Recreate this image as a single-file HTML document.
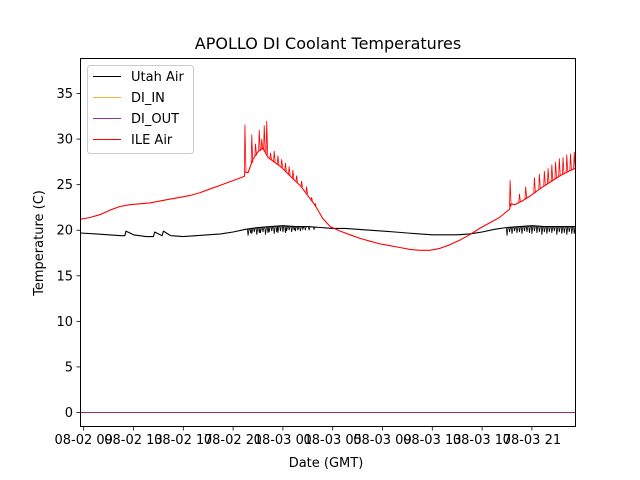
<!DOCTYPE html>
<html><head><meta charset="utf-8"><style>
body{margin:0;background:#fff;}
svg{display:block;font-family:"DejaVu Sans","Liberation Sans",sans-serif;}
</style></head><body>
<svg id="chart" width="640" height="480" viewBox="0 0 640 480">
<rect width="640" height="480" fill="#fff"/>
<text x="328" y="49" text-anchor="middle" font-size="16">APOLLO DI Coolant Temperatures</text>
<text x="326" y="467" text-anchor="middle" font-size="13">Date (GMT)</text>
<text transform="translate(43,243) rotate(-90)" text-anchor="middle" font-size="13">Temperature (C)</text>
<g id="plot"></g>
<g id="axes"></g>
<g>
<rect x="87.5" y="65.5" width="106" height="88" rx="3" fill="#fff" fill-opacity="0.85" stroke="#ccc"/>
<g><line x1="93" y1="76.5" x2="121" y2="76.5" stroke="#000" stroke-width="1"/><text x="131" y="81" font-size="13">Utah Air</text></g>
<g><line x1="93" y1="97.5" x2="121" y2="97.5" stroke="#f5b041" stroke-width="1"/><text x="131" y="102" font-size="13">DI_IN</text></g>
<g><line x1="93" y1="118.5" x2="121" y2="118.5" stroke="#a0309f" stroke-width="1"/><text x="131" y="123" font-size="13">DI_OUT</text></g>
<g><line x1="93" y1="139.5" x2="121" y2="139.5" stroke="#ff0000" stroke-width="1"/><text x="131" y="144" font-size="13">ILE Air</text></g>
</g>
</svg>
<script>
// hours since 08-02 09:00
const ileHours = [-0.3,0.5,1.3,2.1,2.9,3.7,4.5,5.3,6.1,6.9,7.7,8.5,9.3,10.1,10.9,11.9,12.9,12.95,13.2,13.6,14.0,14.4,14.8,15.2,15.8,16.4,17.0,17.4,18.0,18.6,19.2,19.8,20.6,21.4,22.2,23.0,23.8,24.6,25.4,26.2,27.0,27.8,28.6,29.4,30.2,31.0,31.8,32.6,33.4,34.2,34.3,34.6,35.2,35.9,36.7,37.5,38.3,39.0,39.5];
const ileTemps = [21.2,21.4,21.7,22.2,22.6,22.8,22.9,23.0,23.2,23.4,23.6,23.8,24.1,24.5,24.9,25.4,25.9,26.4,26.3,27.8,28.6,29.0,28.0,27.6,27.0,26.2,25.4,24.9,23.8,22.7,21.3,20.4,19.9,19.5,19.1,18.8,18.5,18.3,18.1,17.9,17.8,17.8,18.0,18.4,18.9,19.5,20.2,20.8,21.4,22.3,22.9,22.8,23.2,23.8,24.6,25.3,26.0,26.5,26.8];
const ileSpikeHours = [12.95,13.5,13.8,14.1,14.3,14.5,14.7,15.0,15.3,15.6,15.9,16.2,16.5,16.8,17.1,17.5,17.9,18.3,18.6,34.25,35.0,35.5,36.2,36.6,37.0,37.3,37.6,37.9,38.2,38.5,38.8,39.1,39.4];
const ileSpikeTemps = [31.6,30.5,29.5,31.0,30.0,31.5,32.0,28.5,28.7,28.2,27.8,27.4,27.0,26.6,26.0,25.4,24.8,23.6,22.9,25.5,24.0,24.8,25.8,26.2,26.5,26.8,27.2,27.5,27.9,28.0,28.3,28.4,28.6];
const utahHours = [-0.3,1,2,3,3.3,3.4,4,5,5.6,5.7,6.3,6.4,7,8,9,10,11,12,13,14,15,16,17,18,19,20,21,22,23,24,25,26,27,28,29,30,31,32,33,34,35,36,37,38,39,39.5];
const utahTemps = [19.7,19.6,19.5,19.4,19.4,19.9,19.5,19.3,19.3,19.8,19.4,19.9,19.4,19.3,19.4,19.5,19.6,19.8,20.1,20.3,20.4,20.5,20.4,20.4,20.3,20.2,20.2,20.1,20.0,19.9,19.8,19.7,19.6,19.5,19.5,19.5,19.6,19.8,20.1,20.3,20.4,20.5,20.4,20.4,20.4,20.4];
const utahNoiseHours = [13.2,13.4,13.5,13.7,13.9,14.1,14.2,14.4,14.6,14.8,14.9,15.1,15.3,15.5,15.6,15.8,16.0,16.2,16.3,16.5,16.7,16.9,17.0,17.2,17.4,17.6,17.8,18.1,18.5,34.0,34.2,34.4,34.6,34.8,35.0,35.2,35.4,35.6,35.8,36.0,36.2,36.4,36.6,36.8,37.0,37.2,37.4,37.6,37.8,38.0,38.2,38.4,38.6,38.8,39.0,39.2,39.4];
const utahNoiseTemps = [19.4,19.7,19.6,19.8,19.5,19.7,19.7,19.8,19.5,19.7,19.8,19.9,19.6,19.8,19.7,19.9,19.8,19.7,19.9,20.0,19.8,20.0,19.9,20.0,19.9,20.1,20.0,20.0,20.1,19.4,19.8,19.6,19.9,19.7,19.8,19.6,19.9,19.8,19.7,19.6,19.9,19.7,19.8,19.5,19.8,19.6,19.8,19.7,19.9,19.5,19.8,19.6,19.7,19.5,19.8,19.6,19.6];
const diInHours = [-0.3,39.5];
const diInTemps = [0,0];
const diOutHours = [-0.3,39.5];
const diOutTemps = [0,0];
const xTickHours = [0,4,8,12,16,20,24,28,32,36];
const xTickLabels = ["08-02 09","08-02 13","08-02 17","08-02 21","08-03 01","08-03 05","08-03 09","08-03 13","08-03 17","08-03 21"];
const yTicks = [0,5,10,15,20,25,30,35];

const L=80,R=576,T=58,B=427;
const xs = h => 83.7 + h*12.45;
const ys = v => 412.5 - v*9.114;
const NS="http://www.w3.org/2000/svg";
const plot=document.getElementById('plot'), axes=document.getElementById('axes');
function mk(tag, attrs, parent){const e=document.createElementNS(NS,tag);for(const k in attrs)e.setAttribute(k,attrs[k]);parent.appendChild(e);return e;}
function series(hs, vs, color, w, name){
  const p=mk('polyline',{points:hs.map((h,i)=>xs(h).toFixed(1)+','+ys(vs[i]).toFixed(1)).join(' '),fill:'none',stroke:color,'stroke-width':w,'stroke-linejoin':'round'},plot);
  
  
}
function spikes(hs, vs, baseH, baseV, color, name){
  hs.forEach((h,i)=>{
    let j=0; while(j<baseH.length-2 && baseH[j+1]<h) j++;
    const t=(h-baseH[j])/(baseH[j+1]-baseH[j]||1);
    const b=baseV[j]+(baseV[j+1]-baseV[j])*Math.max(0,Math.min(1,t));
    const l=mk('polyline',{points:`${xs(h-0.05)},${ys(b)} ${xs(h)},${ys(vs[i])} ${xs(h+0.08)},${ys(b)}`,fill:'none',stroke:color,'stroke-width':0.8},plot);
    
    
  });
}
series(utahHours, utahTemps, '#000', 1.1, 'utah-air-line');
spikes(utahNoiseHours, utahNoiseTemps, utahHours, utahTemps, '#000', 'utah-air-spike');
series(diInHours, diInTemps, '#f5b041', 1, 'di-in-line');
series(diOutHours, diOutTemps, '#a02a70', 1, 'di-out-line');
series(ileHours, ileTemps, '#ff0000', 1.1, 'ile-air-line');
spikes(ileSpikeHours, ileSpikeTemps, ileHours, ileTemps, '#ff0000', 'ile-air-spike');

const fr=mk('rect',{x:L+0.5,y:T+0.5,width:R-L-1,height:B-T-1,fill:'none',stroke:'#000','stroke-width':1},axes);


yTicks.forEach(v=>{
  const y=ys(v);
  const tk=mk('line',{x1:L-3.5,x2:L,y1:y,y2:y,stroke:'#000','stroke-width':0.8},axes);
  
  
  const t=mk('text',{x:L-7,y:y+4.5,'text-anchor':'end','font-size':13},axes);
  t.textContent=v;
  
  
});
xTickHours.forEach((h,i)=>{
  const x=xs(h);
  const tk=mk('line',{x1:x,x2:x,y1:B,y2:B+3.5,stroke:'#000','stroke-width':0.8},axes);
  
  
  const t=mk('text',{x:x,y:B+17,'text-anchor':'middle','font-size':13},axes);
  t.textContent=xTickLabels[i];
  
  
});
</script>
</body></html>
